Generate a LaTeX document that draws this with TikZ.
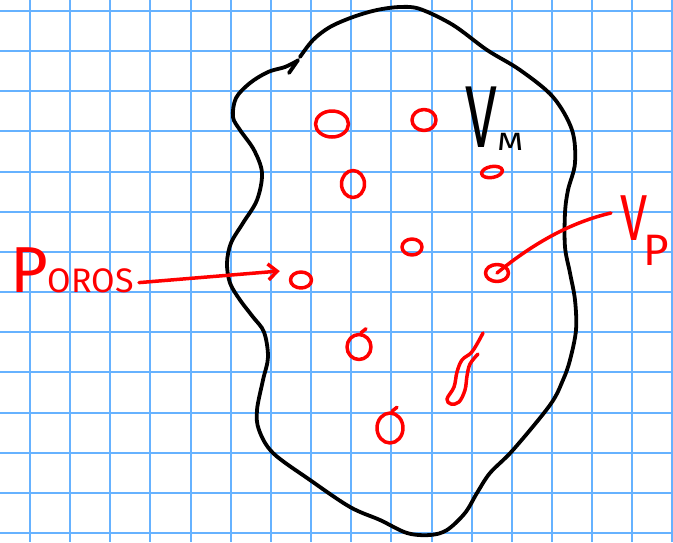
\documentclass[tikz,border=0pt]{standalone}
\usepackage{fontspec}
\newfontfamily\hand{Fira Sans}
\usetikzlibrary{shapes.geometric,arrows.meta}
\definecolor{gridblue}{RGB}{102,178,255}
\definecolor{pen}{RGB}{255,0,0}

\begin{document}
\begin{tikzpicture}[x=1pt,y=-1pt,
  gridline/.style={draw=gridblue,line width=2pt},
  outline/.style={draw=black,line width=3.8pt,line cap=round,line join=round},
  redpen/.style={draw=pen,line width=3.5pt,line cap=round,line join=round},
  pore/.style={ellipse,redpen,inner sep=0pt},
  handtext/.style={inner sep=0pt,font=\hand}]
\useasboundingbox (0,0) rectangle (673,542);
\fill[white] (0,0) rectangle (673,542);

% squared paper
\foreach \k in {0,...,16} \draw[gridline] ({30+40.15*\k},0) -- ({30+40.15*\k},542);
\foreach \k in {0,...,13} \draw[gridline] (0,{11+40.15*\k}) -- (673,{11+40.15*\k});

% outline of the rock sample
\draw[outline] plot[smooth,tension=0.55] coordinates {
  (300,57) (313,40) (330,27) (353,17) (377,10) (400,7) (420,9) (453,25)
  (487,50) (520,70) (553,97) (572,130) (575,163) (568,190) (565,213)
  (565,247) (570,273) (575,300) (576,330) (570,360) (563,380) (550,405)
  (513,450) (490,473) (477,493) (465,513) (447,530) (430,535) (407,533)
  (380,520) (350,507) (310,480) (273,453) (259,430) (257,410) (263,380)
  (268,357) (264,332) (253,317) (240,300) (230,283) (227,263) (231,243)
  (243,223) (257,200) (262,173) (254,150) (240,130) (233,117) (236,98)
  (250,83) (268,72) (285,67) (297,61)};
\draw[outline] (298,60) -- (289,73);

% pores
\node[pore,minimum width=33pt,minimum height=26pt] (p1) at (332,124) {};
\node[pore,minimum width=24pt,minimum height=21pt] (p2) at (424,120) {};
\node[pore,minimum width=23pt,minimum height=27pt] (p3) at (353,184) {};
\node[pore,minimum width=20pt,minimum height=16pt] (p4) at (412,247) {};
\node[pore,minimum width=21pt,minimum height=11pt,rotate=10] (p5) at (492,172) {};
\node[pore,minimum width=23pt,minimum height=17pt] (p6) at (497,273) {};
\node[pore,minimum width=21pt,minimum height=16pt] (p7) at (301,280) {};
\node[pore,minimum width=24pt,minimum height=25pt] (p8) at (359,347) {};
\node[pore,minimum width=26pt,minimum height=30pt] (p9) at (390,428) {};
\draw[redpen] ([xshift=2pt]p8.north) -- ++(5pt,4pt);
\draw[redpen] ([xshift=2pt]p9.north) -- ++(5pt,4pt);
\draw[redpen] plot[smooth,tension=0.6] coordinates {
  (483,333) (477,344) (471,353) (462,360) (457,372) (454,387) (447,399)
  (451,404) (459,402) (465,390) (467,376) (470,364) (478,354)};

% labels
\node[handtext,anchor=base west] (vm) at (465,147)
  {\fontsize{88}{88}\selectfont\scalebox{0.65}[1]{V}\raisebox{-3pt}{\fontsize{25}{25}\selectfont\scalebox{1.35}[1]{M}}};
\node[handtext,text=pen,anchor=base west] (vp) at (620,240)
  {\fontsize{65}{65}\selectfont\scalebox{0.75}[1]{V}\kern-4pt\raisebox{-25pt}{\fontsize{44}{44}\selectfont P}};
\node[handtext,text=pen,anchor=base west] (poros) at (10,292)
  {\fontsize{65}{65}\selectfont P\fontsize{34}{34}\selectfont OROS};

% connectors
\coordinate (vpend) at (611,213);
\draw[redpen] (p6.center) .. controls (535,242) and (572,222) .. (vpend);
\draw[redpen,-{Straight Barb[length=9pt,width=16pt]}]
  ([shift={(5pt,10pt)}]poros.south east) -- ([shift={(-9pt,9pt)}]p7.west);
\end{tikzpicture}
\end{document}
